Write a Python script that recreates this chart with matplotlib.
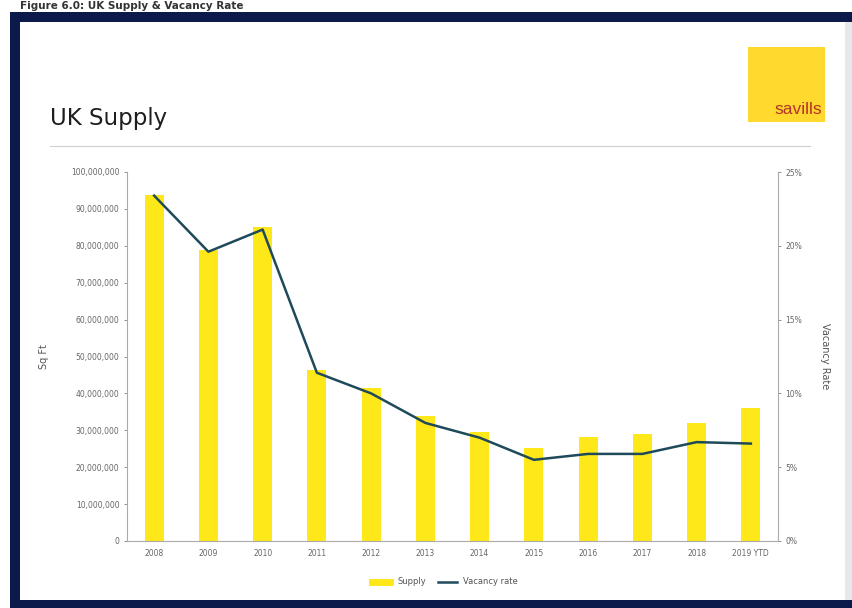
"""UK supply (bars) and vacancy rate (line) chart"""
import matplotlib
matplotlib.use("Agg")
import matplotlib.pyplot as plt
from matplotlib.patches import Rectangle
from matplotlib.lines import Line2D
from matplotlib.ticker import FuncFormatter

years = ["2008", "2009", "2010", "2011", "2012", "2013",
         "2014", "2015", "2016", "2017", "2018", "2019 YTD"]
supply = [93.8e6, 78.9e6, 85.0e6, 46.3e6, 41.5e6, 34.0e6,
          29.5e6, 25.2e6, 28.2e6, 29.0e6, 32.0e6, 36.0e6]
vacancy = [23.4, 19.6, 21.1, 11.4, 10.0, 8.0,
           7.0, 5.5, 5.9, 5.9, 6.7, 6.6]

W, H = 852, 608
fig = plt.figure(figsize=(W / 100, H / 100), dpi=100)
fig.patch.set_facecolor("white")


def fx(px):
    return px / W


def fy(py):
    return 1 - py / H


# caption at the very top (mostly cropped in the source screenshot)
fig.text(fx(20), fy(1), "Figure 6.0: UK Supply & Vacancy Rate", fontsize=7.5,
         fontweight="bold", color="#333333", va="top", ha="left")

# navy frame and white panel
fig.patches.append(Rectangle((fx(10), 0), 1 - fx(10), fy(12), transform=fig.transFigure,
                             facecolor="#0b1a4a", edgecolor="none", zorder=-3))
fig.patches.append(Rectangle((fx(20), fy(600)), fx(845) - fx(20), fy(22) - fy(600),
                             transform=fig.transFigure, facecolor="white",
                             edgecolor="none", zorder=-2))
fig.patches.append(Rectangle((fx(845), fy(600)), 1 - fx(845), fy(22) - fy(600),
                             transform=fig.transFigure, facecolor="#e6e8ee",
                             edgecolor="none", zorder=-2))

# title + separator
fig.text(fx(50), fy(118), "UK Supply", fontsize=16.5, color="#1e1e1e", va="center")
fig.lines.append(Line2D([fx(50), fx(810)], [fy(146), fy(146)], transform=fig.transFigure,
                        color="#d0d0d0", lw=0.8, zorder=-1))

# savills logo
fig.patches.append(Rectangle((fx(748), fy(122)), fx(825) - fx(748), fy(47) - fy(122),
                             transform=fig.transFigure, facecolor="#ffd92e",
                             edgecolor="none", zorder=-1))
fig.text(fx(822), fy(110), "savills", fontsize=12.5, color="#b5332a", ha="right",
         va="center", family="Liberation Sans Narrow" if False else "Liberation Sans")

ax = fig.add_axes([fx(127), fy(541), fx(778) - fx(127), fy(172) - fy(541)])
ax.set_facecolor("none")
x = range(len(years))
ax.bar(x, supply, width=0.35, color="#ffe81a", zorder=2, label="Supply")
ax.set_xlim(-0.5, len(years) - 0.5)
ax.set_ylim(0, 100e6)
ax.set_yticks([i * 10e6 for i in range(11)])
ax.yaxis.set_major_formatter(FuncFormatter(lambda v, p: f"{int(v):,}"))
ax.set_xticks(list(x))
ax.set_xticklabels(years)
ax.tick_params(axis="both", labelsize=5.5, colors="#666666", length=2, width=0.5)
ax.tick_params(axis="x", length=0, pad=6)
ax.set_ylabel("Sq Ft", fontsize=7, color="#555555", labelpad=16)
for s in ["top", "right"]:
    ax.spines[s].set_visible(False)
for s in ["left", "bottom"]:
    ax.spines[s].set_color("#aaaaaa")
    ax.spines[s].set_linewidth(0.8)

ax2 = ax.twinx()
ax2.plot(list(x), vacancy, color="#1e4a5a", lw=1.8, zorder=3, label="Vacancy rate")
ax2.set_ylim(0, 25)
ax2.set_yticks([0, 5, 10, 15, 20, 25])
ax2.yaxis.set_major_formatter(FuncFormatter(lambda v, p: f"{int(v)}%"))
ax2.tick_params(axis="y", labelsize=5.5, colors="#666666", length=2, width=0.5)
ax2.set_ylabel("Vacancy Rate", fontsize=7, color="#555555", rotation=270, labelpad=20)
for s in ["top", "left", "bottom"]:
    ax2.spines[s].set_visible(False)
ax2.spines["right"].set_color("#aaaaaa")
ax2.spines["right"].set_linewidth(0.8)

handles = [Line2D([0], [0], color="#ffe81a", lw=5), Line2D([0], [0], color="#1e4a5a", lw=1.8)]
fig.legend(handles, ["Supply", "Vacancy rate"], loc="center", bbox_to_anchor=(fx(445), fy(582)),
           ncol=2, frameon=False, fontsize=6, handlelength=2.2, columnspacing=1.5,
           labelcolor="#555555")

fig.savefig("out.png", dpi=100)
